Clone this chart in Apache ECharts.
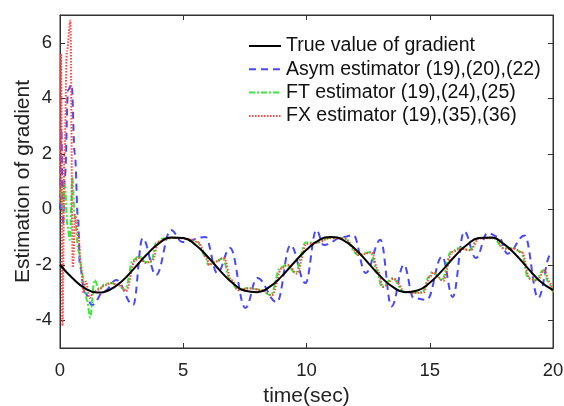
<!DOCTYPE html>
<html>
<head>
<meta charset="utf-8">
<script src="https://cdn.jsdelivr.net/npm/echarts@6/dist/echarts.min.js"></script>
<style>
  html, body { margin: 0; padding: 0; background: #fff; }
  #chart { width: 564px; height: 406px; }
</style>
</head>
<body>
<div id="chart"></div>
<script>
  const seriesNames = [
    'True value of gradient',
    'Asym estimator (19),(20),(22)',
    'FT estimator (19),(24),(25)',
    'FX estimator (19),(35),(36)'
  ];

  const xTicks = [0, 5, 10, 15, 20];
  const yTicks = [-4, -2, 0, 2, 4, 6];

  // true gradient
  const trueT = [0, 0.5, 1, 1.5, 2, 2.5, 3, 3.5, 4, 4.5, 5, 5.5, 6, 6.5, 7, 7.5, 8, 8.5, 9, 9.5,
    10, 10.5, 11, 11.5, 12, 12.5, 13, 13.5, 14, 14.5, 15, 15.5, 16, 16.5, 17, 17.5, 18, 18.5, 19, 19.5, 20];
  const trueV = [-2.00, -2.48, -2.84, -3.00, -2.91, -2.60, -2.14, -1.65, -1.24, -1.02, -1.04, -1.29, -1.72,
    -2.22, -2.66, -2.94, -2.99, -2.80, -2.41, -1.92, -1.46, -1.12, -1.00, -1.12, -1.46, -1.93, -2.42, -2.80,
    -2.99, -2.93, -2.65, -2.21, -1.71, -1.29, -1.04, -1.02, -1.25, -1.65, -2.15, -2.61, -2.91];

  // Asym estimator
  const asymT = [0, 0.05, 0.12, 0.2, 0.33, 0.47, 0.6, 0.73, 0.81, 1.0, 1.3, 1.8, 2.28, 2.97, 3.35, 3.9, 4.5,
    4.96, 5.9, 6.38, 6.9, 7.52, 8.0, 8.8, 9.35, 9.96, 10.4, 10.7, 11.5, 11.9, 12.4, 13.0, 13.45, 13.95,
    14.35, 14.88, 15.5, 15.93, 16.4, 16.87, 17.35, 17.8, 18.15, 18.85, 19.4, 19.9, 20];
  const asymV = [0, 2.9, -0.6, 1.2, 4.3, 4.5, 2.0, -0.3, -2.08, -3.0, -3.45, -2.95, -2.55, -3.45, -1.05,
    -2.37, -0.75, -1.18, -1.0, -2.3, -1.4, -3.56, -2.48, -3.35, -1.29, -2.66, -0.75, -1.29, -1.0, -0.93,
    -2.3, -1.1, -3.5, -2.0, -3.2, -3.27, -1.7, -3.16, -0.8, -1.76, -0.85, -1.0, -1.6, -0.95, -3.2, -1.65, -1.7];

  // FT estimator
  const ftT = [0, 0.05, 0.1, 0.2, 0.3, 0.4, 0.5, 0.6, 0.75, 0.9, 1.0, 1.1, 1.22, 1.4, 1.6, 1.8, 2.0, 2.3,
    2.64, 2.96, 3.2, 3.46, 3.7, 3.9, 4.2, 4.5, 4.9, 5.3, 5.57, 5.9, 6.0, 6.3, 6.6, 6.9, 7.2, 7.64, 8.13,
    8.54, 8.94, 9.2, 9.55, 9.96, 10.4, 10.9, 11.5, 12.1, 12.6, 12.85, 13.05, 13.5, 13.95, 14.35, 14.7,
    14.96, 15.1, 15.5, 15.85, 16.2, 16.6, 16.95, 17.6, 17.97, 18.37, 18.7, 19.0, 19.3, 19.6, 19.8, 20];
  const ftV = [0.5, 0.8, -0.1, 0.9, -0.6, -1.1, 1.15, -0.3, -1.5, -2.3, -2.9, -3.3, -3.9, -2.55, -2.9,
    -2.7, -2.66, -2.7, -2.9, -1.83, -1.7, -1.9, -1.9, -1.2, -1.05, -1.04, -1.04, -1.1, -1.18, -1.7, -2.0,
    -1.9, -1.76, -2.55, -2.9, -2.84, -2.9, -3.1, -2.1, -2.0, -2.3, -1.2, -1.2, -1.04, -1.04, -1.65, -1.54,
    -2.2, -2.8, -2.48, -2.98, -3.0, -3.0, -2.44, -2.26, -2.55, -1.54, -1.4, -1.47, -1.04, -1.04, -1.4,
    -1.4, -1.54, -2.48, -2.55, -2.2, -2.6, -3.0];

  // FX estimator
  const fxT = [0, 0.04, 0.1, 0.18, 0.28, 0.42, 0.52, 0.62, 0.75, 0.85, 0.95, 1.05, 1.2, 1.35, 1.55, 1.8,
    2.07, 2.4, 2.68, 3.05, 3.25, 3.46, 3.75, 4.0, 4.3, 4.6, 5.0, 5.35, 5.62, 5.95, 6.05, 6.35, 6.65, 6.95,
    7.25, 7.7, 8.2, 8.6, 9.0, 9.25, 9.6, 10.0, 10.45, 10.95, 11.55, 12.15, 12.65, 12.9, 13.1, 13.55, 14.0,
    14.4, 14.75, 15.0, 15.15, 15.55, 15.9, 16.25, 16.65, 17.0, 17.65, 18.02, 18.42, 18.75, 19.05, 19.35,
    19.65, 19.85, 20];
  const fxV = [0.2, 5.6, -4.2, 2.0, 5.7, 6.8, -2.1, -0.2, -1.0, -2.0, -3.0, -2.6, -3.2, -3.0, -2.9, -2.75,
    -2.66, -2.75, -2.95, -1.83, -1.75, -1.94, -1.85, -1.18, -1.06, -1.03, -1.05, -1.1, -1.2, -1.75, -2.0,
    -1.88, -1.75, -2.55, -2.92, -2.85, -2.92, -3.1, -2.12, -2.0, -2.32, -1.25, -1.2, -1.04, -1.05, -1.65,
    -1.55, -2.2, -2.8, -2.5, -2.98, -3.02, -3.0, -2.45, -2.28, -2.58, -1.55, -1.42, -1.48, -1.05, -1.04,
    -1.42, -1.42, -1.56, -2.5, -2.58, -2.2, -2.6, -3.0];

  function pairs(ts, vs) {
    return ts.map((t, i) => [t, vs[i]]);
  }

  const font = 'Liberation Sans, Arial, sans-serif';
  const axisColor = '#333333';

  const chart = echarts.init(document.getElementById('chart'));

  const option = {
    animation: false,
    backgroundColor: '#ffffff',
    textStyle: {fontFamily: font},
    grid: {
      left: 60,
      right: 11,
      top: 15,
      bottom: 58,
      outerBoundsMode: 'none',
      containLabel: false,
      show: true,
      borderColor: axisColor,
      borderWidth: 1
    },
    legend: {
      orient: 'vertical',
      left: 243,
      top: 31,
      itemWidth: 32,
      itemHeight: 14,
      itemGap: 3.3,
      itemStyle: {opacity: 0},
      textStyle: {fontSize: 19.5, color: '#111', lineHeight: 20, fontFamily: font},
      data: seriesNames
    },
    xAxis: [{
      type: 'value',
      min: 0,
      max: 20,
      interval: 5,
      name: 'time(sec)',
      nameLocation: 'middle',
      nameGap: 38,
      nameTextStyle: {fontSize: 21, color: '#222', fontFamily: font},
      axisLine: {show: true, onZero: false, lineStyle: {color: axisColor}},
      axisTick: {show: true, inside: true, length: 5, lineStyle: {color: axisColor}},
      axisLabel: {fontSize: 18.5, color: '#222', margin: 13, customValues: xTicks},
      splitLine: {show: false}
    }, {
      type: 'value',
      position: 'top',
      min: 0,
      max: 20,
      interval: 5,
      axisLine: {show: true, onZero: false, lineStyle: {color: axisColor}},
      axisTick: {show: true, inside: true, length: 5, lineStyle: {color: axisColor}},
      axisLabel: {show: false},
      splitLine: {show: false}
    }],
    yAxis: [{
      type: 'value',
      min: -5,
      max: 7,
      name: 'Estimation of gradient',
      nameLocation: 'middle',
      nameGap: 26,
      nameMoveOverlap: false,
      nameTextStyle: {fontSize: 21, color: '#222', fontFamily: font},
      axisLine: {show: true, onZero: false, lineStyle: {color: axisColor}},
      axisTick: {show: true, inside: true, length: 5, customValues: yTicks, lineStyle: {color: axisColor}},
      axisLabel: {fontSize: 18.5, color: '#222', margin: 8, customValues: yTicks},
      splitLine: {show: false}
    }, {
      type: 'value',
      position: 'right',
      min: -5,
      max: 7,
      axisLine: {show: true, onZero: false, lineStyle: {color: axisColor}},
      axisTick: {show: true, inside: true, length: 5, customValues: yTicks, lineStyle: {color: axisColor}},
      axisLabel: {show: false},
      splitLine: {show: false}
    }],
    series: [{
      name: seriesNames[0],
      type: 'line',
      data: pairs(trueT, trueV),
      smooth: 0.5,
      symbol: 'none',
      z: 5,
      lineStyle: {color: '#000000', width: 2, type: 'solid'},
      itemStyle: {color: '#000000'}
    }, {
      name: seriesNames[1],
      type: 'line',
      data: pairs(asymT, asymV),
      smooth: 0.4,
      smoothMonotone: 'x',
      symbol: 'none',
      z: 3,
      lineStyle: {color: '#4848ff', width: 2, type: [7, 5]},
      itemStyle: {color: '#4848ff'}
    }, {
      name: seriesNames[2],
      type: 'line',
      data: pairs(ftT, ftV),
      smooth: 0.35,
      smoothMonotone: 'x',
      symbol: 'none',
      z: 4,
      lineStyle: {color: '#3ee83e', width: 2, type: [6, 2, 2, 2]},
      itemStyle: {color: '#3ee83e'}
    }, {
      name: seriesNames[3],
      type: 'line',
      data: pairs(fxT, fxV),
      smooth: 0.35,
      smoothMonotone: 'x',
      symbol: 'none',
      z: 4,
      lineStyle: {color: '#ff4444', width: 2, type: [1.5, 1.5]},
      itemStyle: {color: '#ff4444'}
    }]
  };

  chart.setOption(option);
</script>
</body>
</html>
